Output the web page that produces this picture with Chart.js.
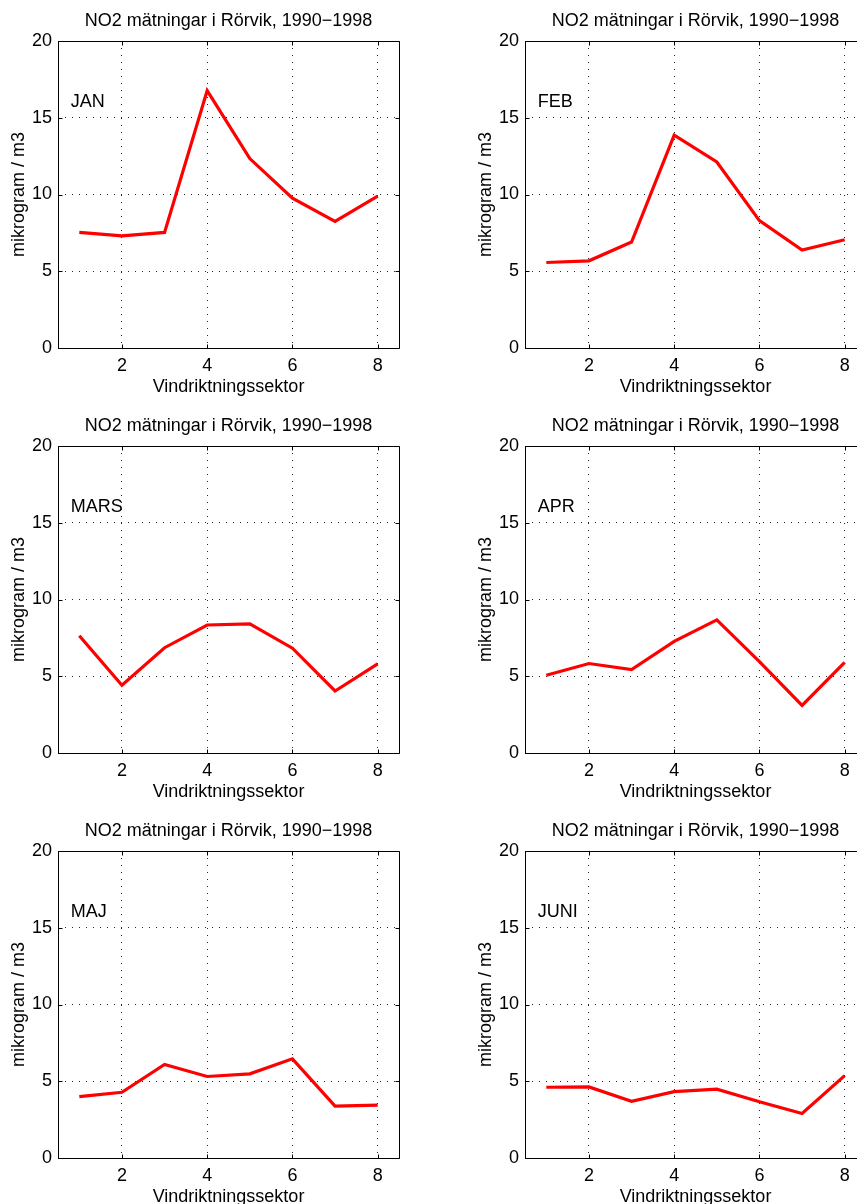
<!DOCTYPE html>
<html>
<head>
<meta charset="utf-8">
<script src="https://cdn.jsdelivr.net/npm/chart.js@4/dist/chart.umd.min.js"></script>
<style>
  html, body { margin: 0; padding: 0; background: #fff; overflow: hidden; width: 857px; height: 1204px; }
  canvas { position: absolute; }
</style>
</head>
<body>
<script>
// Wind direction sectors on the x axis
const sectors = [1, 2, 3, 4, 5, 6, 7, 8];

// Mean NO2 (mikrogram / m3) per sector and month
const jan  = [7.53, 7.31, 7.53, 16.77, 12.34, 9.76, 8.25, 9.89];
const feb  = [5.57, 5.68, 6.90, 13.86, 12.12, 8.30, 6.38, 7.05];
const mars = [7.64, 4.41, 6.86, 8.34, 8.41, 6.83, 4.04, 5.81];
const apr  = [5.07, 5.83, 5.44, 7.27, 8.67, 5.96, 3.10, 5.90];
const maj  = [4.00, 4.28, 6.09, 5.31, 5.48, 6.46, 3.38, 3.45];
const juni = [4.61, 4.63, 3.69, 4.32, 4.48, 3.67, 2.90, 5.37];

const months = ['JAN', 'FEB', 'MARS', 'APR', 'MAJ', 'JUNI'];
const series = [jan, feb, mars, apr, maj, juni];

const xTicks = [2, 4, 6, 8];
const yTicks = [0, 5, 10, 15, 20];

const titleText = 'NO2 mätningar i Rörvik, 1990\u22121998';
const xTitle = 'Vindriktningssektor';
const yTitle = 'mikrogram / m3';

const FONT = "'Liberation Sans', Arial, Helvetica, sans-serif";
const FS = 18;
const PANEL_W = 428, PANEL_H = 405, COL_STEP = 467;
const monthAt = { x: 0.8, y: 16 };

// Panel title centred over the axes, axes box, inward tick marks and month label
const framePlugin = {
  id: 'frame',
  afterDraw(chart) {
    const { ctx, chartArea: a, scales } = chart;
    const month = chart.options.plugins.frame.month;
    ctx.save();
    ctx.strokeStyle = '#000';
    ctx.lineWidth = 1;
    const L = Math.round(a.left) + 0.5, R = Math.round(a.right) + 0.5;
    const T = Math.round(a.top) + 0.5, B = Math.round(a.bottom) + 0.5;
    ctx.beginPath();
    ctx.rect(L, T, R - L, B - T);
    const tl = 4;
    scales.x.ticks.forEach(t => {
      const px = Math.round(scales.x.getPixelForValue(t.value)) + 0.5;
      ctx.moveTo(px, B); ctx.lineTo(px, B - tl);
      ctx.moveTo(px, T); ctx.lineTo(px, T + tl);
    });
    scales.y.ticks.forEach(t => {
      const py = Math.round(scales.y.getPixelForValue(t.value)) + 0.5;
      ctx.moveTo(L, py); ctx.lineTo(L + tl, py);
      ctx.moveTo(R, py); ctx.lineTo(R - tl, py);
    });
    ctx.stroke();

    ctx.fillStyle = '#000';
    ctx.font = FS + 'px ' + FONT;
    ctx.textBaseline = 'middle';
    ctx.textAlign = 'center';
    ctx.fillText(titleText, (a.left + a.right) / 2, a.top - 20);

    ctx.textAlign = 'left';
    ctx.fillText(month, scales.x.getPixelForValue(monthAt.x), scales.y.getPixelForValue(monthAt.y));
    ctx.restore();
  }
};

function makePanel(i) {
  const col = i % 2, row = Math.floor(i / 2);
  const canvas = document.createElement('canvas');
  canvas.width = PANEL_W; canvas.height = PANEL_H;
  canvas.style.left = (col * COL_STEP) + 'px';
  canvas.style.top = (row * PANEL_H) + 'px';
  canvas.style.width = PANEL_W + 'px';
  canvas.style.height = PANEL_H + 'px';
  document.body.appendChild(canvas);

  const gridDash = [1, 6];
  new Chart(canvas, {
    type: 'line',
    data: {
      datasets: [{
        data: sectors.map((s, k) => ({ x: s, y: series[i][k] })),
        borderColor: '#ff0000',
        borderWidth: 3.2,
        pointRadius: 0,
        tension: 0,
        fill: false,
        borderJoinStyle: 'miter'
      }]
    },
    options: {
      responsive: false,
      animation: false,
      events: [],
      layout: { padding: { left: 0, right: 29, top: 41, bottom: 0 } },
      plugins: {
        legend: { display: false },
        tooltip: { enabled: false },
        title: { display: false },
        frame: { month: months[i] }
      },
      scales: {
        x: {
          type: 'linear',
          min: 0.5, max: 8.5,
          afterBuildTicks: s => { s.ticks = xTicks.map(v => ({ value: v })); },
          afterFit: s => { s.height = 57; },
          ticks: { color: '#000', font: { family: FONT, size: FS }, padding: 7, maxRotation: 0, autoSkip: false },
          grid: { color: 'rgba(0,0,0,0.85)', lineWidth: 1, drawTicks: false },
          border: { display: false, dash: gridDash },
          title: { display: true, text: xTitle, color: '#000', font: { family: FONT, size: FS, lineHeight: 1.2 }, padding: { top: 0, bottom: 7 } }
        },
        y: {
          type: 'linear',
          min: 0, max: 20,
          afterBuildTicks: s => { s.ticks = yTicks.map(v => ({ value: v })); },
          afterFit: s => { s.width = 58; },
          ticks: { color: '#000', font: { family: FONT, size: FS }, padding: 6 },
          grid: { color: 'rgba(0,0,0,0.85)', lineWidth: 1, drawTicks: false },
          border: { display: false, dash: gridDash },
          title: { display: true, text: yTitle, color: '#000', font: { family: FONT, size: FS, lineHeight: 1.2 }, padding: { top: 8, bottom: 0 } }
        }
      }
    },
    plugins: [framePlugin]
  });
}

for (let i = 0; i < 6; i++) makePanel(i);
</script>
</body>
</html>
